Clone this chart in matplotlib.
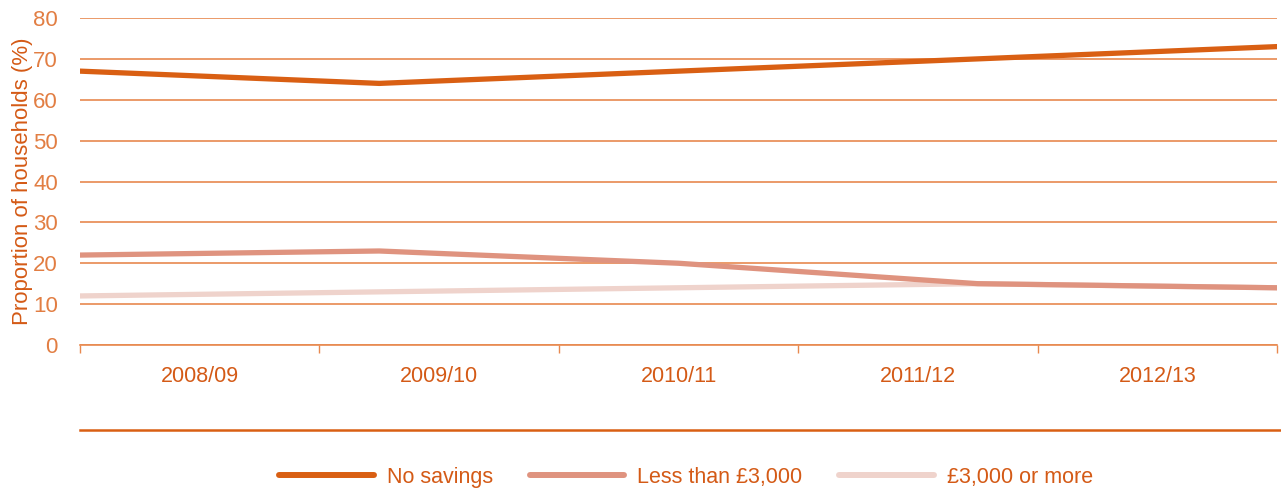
import matplotlib.pyplot as plt
from matplotlib.lines import Line2D

plt.rcParams['font.family'] = ['Liberation Sans', 'DejaVu Sans']

years = ['2008/09', '2009/10', '2010/11', '2011/12', '2012/13']
no_savings = [67, 64, 67, 70, 73]
less_3000 = [22, 23, 20, 15, 14]
more_3000 = [12, 13, 14, 15, 14]

text_col = '#D45A16'
tick_col = '#E27E43'
grid_col = '#E8894F'

fig = plt.figure(figsize=(12.81, 4.90), dpi=100)
ax = fig.add_axes([80 / 1281, 145 / 490, 1197 / 1281, 327 / 490])

n = len(years)
x = list(range(n))
ax.plot(x, more_3000, color='#EFD3CC', lw=3.8, solid_capstyle='round', label='£3,000 or more', zorder=3)
ax.plot(x, less_3000, color='#DF937F', lw=3.8, solid_capstyle='round', label='Less than £3,000', zorder=4)
ax.plot(x, no_savings, color='#D95F13', lw=3.8, solid_capstyle='round', label='No savings', zorder=5)

ax.set_xlim(0, n - 1)
ax.set_ylim(0, 80)

# category boundaries as major ticks, labels centred between them
step = (n - 1) / n
ax.set_xticks([i * step for i in range(n + 1)])
ax.set_xticklabels([])
ax.set_xticks([(i + 0.5) * step for i in range(n)], minor=True)
ax.set_xticklabels(years, minor=True)
ax.tick_params(axis='x', which='major', length=6, width=1, color=grid_col, direction='out')
ax.tick_params(axis='x', which='minor', length=0, pad=15, labelsize=15.5, labelcolor=text_col)

ax.set_yticks(range(0, 81, 10))
ax.tick_params(axis='y', length=0, pad=16, labelsize=16, labelcolor=tick_col)
ax.yaxis.grid(True, color=grid_col, lw=1.2, zorder=1)
ax.set_axisbelow(True)

for s in ['top', 'right', 'left']:
    ax.spines[s].set_visible(False)
ax.spines['bottom'].set_color(grid_col)
ax.spines['bottom'].set_linewidth(1.2)

ax.set_ylabel('Proportion of households (%)', fontsize=16, color=text_col, labelpad=0)

# separator line under the axis
fig.add_artist(Line2D([80 / 1281, 1.0], [60 / 490, 60 / 490], color='#D95F13', lw=1.8))

handles, labels = ax.get_legend_handles_labels()
order = [2, 1, 0]
leg = fig.legend([handles[i] for i in order], [labels[i] for i in order], loc='center',
                 bbox_to_anchor=(686 / 1281, 13 / 490), ncol=3, frameon=False,
                 fontsize=15.5, handlelength=4.4, handletextpad=0.6, columnspacing=1.7)
for t in leg.get_texts():
    t.set_color(text_col)
for h in leg.get_lines():
    h.set_linewidth(4.3)

fig.savefig('out.png', dpi=100)
